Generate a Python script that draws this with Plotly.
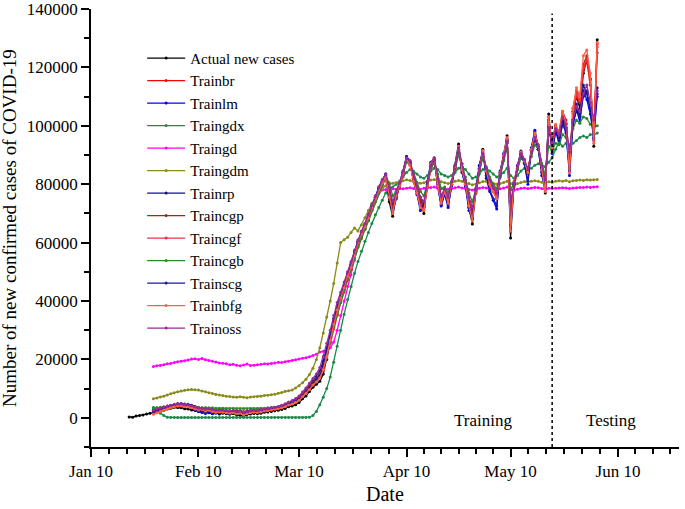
import numpy as np
import pandas as pd
import plotly.graph_objects as go

# values, in thousands of cases
actual_start = "2020-01-21"   # first day of the actual series
model_start = "2020-01-28"    # first day of the network outputs
split_date = "2020-05-22"     # training / testing boundary

actual_k = [
    0.3, 0.2, 0.6, 0.8, 1.0, 1.3, 1.6,
    1.8, 2.0, 2.2, 2.6, 3.0, 3.3, 3.6, 3.5, 3.4, 3.1,
    3.0, 2.7, 2.5, 2.2, 2.6, 2.0, 1.7, 1.5, 1.8, 1.3,
    1.6, 1.4, 1.2, 1.5, 1.0, 0.9, 0.4, 1.1, 1.3, 1.5,
    1.4, 1.6, 1.9, 2.0, 2.2, 2.4, 2.6, 2.8, 3.2, 3.8,
    4.0, 4.5, 5.2, 6.5, 7.5, 9.0, 10.5, 11.5, 12.5, 15.0,
    20, 26, 32, 37, 41, 44, 48, 51, 56, 60,
    63, 65, 68, 72, 75, 78, 80, 82, 74, 69,
    76, 79, 84, 89.5, 87, 82, 78, 74, 70, 80,
    86, 89, 80, 73, 78, 73.5, 80, 86, 93.8, 85,
    80, 72, 66.4, 78, 86, 92, 84, 80, 78, 75,
    84, 90, 96.6, 61.6, 80, 86, 91.4, 88, 84, 92,
    98, 93, 85, 77, 104, 92, 100, 96, 103, 99,
    84.6, 105, 110, 106, 118, 123, 116, 93, 129.5,
]

trainbr_k = [
    2.2, 2.6, 3.0, 3.4, 3.8, 4.0, 4.3, 4.4, 4.5, 4.3,
    4.4, 4.2, 3.9, 3.5, 3.3, 3.0, 3.2, 2.8, 2.6, 2.5,
    2.6, 2.4, 2.3, 2.5, 2.2, 2.4, 2.0, 2.3, 2.5, 2.6,
    2.4, 2.7, 2.9, 3.0, 3.2, 3.4, 3.6, 3.9, 4.3, 4.8,
    5.2, 5.8, 6.5, 7.6, 8.8, 10.2, 11.8, 13.0, 14.5, 17.0,
    21.5, 26.5, 31.5, 36.0, 40.5, 44.0, 48.0, 51.5, 55.5, 59.5,
    62.5, 65.0, 68.0, 71.5, 74.5, 77.5, 80.0, 82.5, 77.0, 72.5,
    75.5, 79.0, 83.0, 88.0, 87.0, 82.5, 79.0, 75.0, 72.5, 79.5,
    85.0, 88.5, 81.5, 75.5, 78.0, 75.0, 80.0, 85.5, 91.5, 86.0,
    81.0, 74.5, 70.5, 77.0, 84.5, 90.0, 85.0, 81.5, 79.0, 76.5,
    83.0, 89.0, 94.5, 72.0, 79.0, 85.0, 90.0, 88.0, 85.0, 91.0,
    96.0, 93.0, 86.0, 80.0, 98.0, 95.0, 99.0, 97.0, 104.0, 101.0,
    88.0, 104.0, 110.0, 108.0, 119.0, 122.0, 114.0, 98.0, 128.0,
]

trainlm_k = [
    1.9, 2.4, 2.9, 3.3, 3.7, 4.1, 4.4, 4.7, 4.6, 4.5,
    4.3, 3.6, 2.9, 2.2, 1.8, 1.5, 1.9, 1.4, 1.6, 1.9,
    2.1, 1.8, 1.6, 1.9, 1.5, 1.7, 1.2, 1.5, 1.8, 2.0,
    1.9, 2.2, 2.5, 2.7, 2.9, 3.1, 3.4, 3.7, 4.1, 4.6,
    5.0, 5.5, 6.2, 7.2, 8.4, 9.8, 11.5, 12.8, 14.2, 17.5,
    22.0, 27.0, 32.5, 37.5, 41.0, 44.5, 48.5, 52.0, 56.0, 60.0,
    63.0, 65.5, 68.5, 72.0, 75.5, 78.5, 81.0, 83.5, 76.0, 70.0,
    75.0, 79.5, 84.5, 89.5, 88.0, 81.0, 76.5, 71.0, 72.0, 81.0,
    87.5, 89.0, 79.0, 72.5, 76.5, 72.0, 79.5, 86.5, 93.0, 84.0,
    79.0, 71.0, 68.0, 78.5, 86.5, 91.5, 82.0, 77.5, 74.5, 71.5,
    84.5, 90.5, 95.5, 64.0, 80.5, 86.5, 91.0, 87.0, 80.0, 92.5,
    98.5, 92.0, 83.0, 78.5, 103.0, 90.5, 98.0, 94.0, 101.0, 97.5,
    83.0, 100.0, 106.0, 101.0, 112.0, 109.0, 104.0, 96.0, 110.0,
]

traingdx_k = [
    3.5, 2.6, 1.6, 0.8, 0.2, 0.1, 0.1, 0.1, 0.1, 0.1,
    0.1, 0.1, 0.1, 0.1, 0.1, 0.1, 0.1, 0.1, 0.1, 0.1,
    0.1, 0.1, 0.1, 0.1, 0.1, 0.1, 0.1, 0.1, 0.1, 0.1,
    0.1, 0.1, 0.1, 0.1, 0.1, 0.1, 0.1, 0.1, 0.1, 0.1,
    0.1, 0.1, 0.1, 0.1, 0.1, 0.2, 0.8, 2.2, 4.5, 7.0,
    10.0, 14.0, 19.0, 24.5, 30.0, 35.5, 40.5, 45.0, 49.5, 53.5,
    57.0, 60.5, 63.5, 66.5, 69.5, 72.0, 74.5, 77.0, 78.5, 79.0,
    80.0, 81.0, 82.5, 84.0, 85.0, 84.5, 83.5, 82.5, 82.0, 83.0,
    84.5, 85.5, 85.0, 83.5, 83.0, 82.5, 83.0, 84.0, 85.5, 86.0,
    85.0, 83.5, 82.0, 82.5, 83.5, 85.0, 85.5, 84.5, 83.5, 82.5,
    83.0, 84.0, 85.5, 83.0, 82.0, 83.0, 84.5, 85.5, 85.0, 85.5,
    86.5, 87.0, 86.5, 86.0, 87.5, 89.0, 92.0, 94.5, 93.0, 94.0,
    93.5, 94.0, 95.0, 96.0, 96.5, 96.0, 97.0, 97.0, 97.5,
]

traingd_k = [
    17.6, 17.8, 17.9, 18.2, 18.5, 18.6, 18.9, 19.2, 19.4, 19.5,
    19.8, 20.1, 20.2, 20.0, 20.3, 19.9, 19.6, 19.4, 19.1, 18.8,
    18.7, 18.5, 18.2, 18.3, 18.0, 17.8, 18.1, 18.4, 17.9, 18.0,
    18.2, 18.3, 18.5, 18.4, 18.6, 18.8, 19.0, 18.9, 19.2, 19.4,
    19.6, 19.9, 20.1, 20.4, 20.6, 20.9, 21.3, 21.8, 22.5, 22.8,
    23.0, 24.0, 26.0, 30.0, 35.0, 40.0, 45.0, 49.0, 54.0, 59.0,
    63.0, 66.5, 70.0, 72.5, 75.0, 77.0, 78.0, 78.2, 78.3, 78.4,
    78.3, 78.5, 78.4, 78.6, 78.8, 78.5, 78.4, 78.3, 78.6, 78.7,
    78.9, 79.0, 78.6, 78.4, 78.5, 78.3, 78.5, 78.8, 79.0, 78.7,
    78.5, 78.2, 78.0, 78.3, 78.6, 78.9, 78.7, 78.5, 78.3, 78.2,
    78.4, 78.7, 79.0, 78.2, 78.0, 78.3, 78.6, 78.7, 78.5, 78.7,
    78.9, 78.8, 78.5, 78.2, 78.6, 78.5, 78.6, 78.7, 78.8, 78.7,
    78.5, 78.7, 78.8, 78.9, 78.9, 79.0, 78.9, 79.0, 79.1,
]

traingdm_k = [
    6.5, 6.8, 7.1, 7.4, 7.8, 8.2, 8.6, 8.9, 9.2, 9.4,
    9.6, 9.7, 9.6, 9.5, 9.2, 8.9, 8.6, 8.3, 8.0, 7.8,
    7.6, 7.4, 7.3, 7.1, 7.0, 7.2, 7.0, 6.9, 7.1, 7.2,
    7.3, 7.4, 7.6, 7.7, 7.9, 8.1, 8.4, 8.7, 9.1, 9.3,
    9.5, 10.2, 11.0, 12.0, 13.2, 14.8, 17.0, 20.0, 24.0, 29.0,
    34.5, 40.0, 46.0, 53.0, 60.0, 61.0, 61.8, 63.5, 65.0, 64.0,
    66.0, 68.5, 71.0, 73.5, 75.5, 77.5, 78.5, 79.5, 80.0, 80.3,
    80.5, 80.8, 81.2, 81.5, 81.3, 81.0, 80.6, 80.3, 80.5, 81.0,
    81.4, 81.6, 81.2, 80.8, 80.5, 80.2, 80.5, 81.0, 81.3, 81.0,
    80.6, 80.2, 79.8, 80.1, 80.5, 80.9, 81.0, 80.6, 80.3, 80.0,
    80.2, 80.6, 81.0, 80.2, 79.9, 80.2, 80.6, 80.9, 80.8, 81.0,
    81.2, 81.0, 80.7, 80.3, 80.8, 80.7, 81.0, 81.2, 81.0, 81.3,
    80.8, 81.2, 81.3, 81.4, 81.3, 81.5, 81.4, 81.5, 81.6,
]

trainrp_k = [
    2.4, 2.8, 3.2, 3.5, 3.9, 4.2, 4.5, 4.8, 4.9, 4.7,
    4.6, 4.3, 3.8, 3.4, 3.1, 2.8, 3.0, 2.7, 2.5, 2.4,
    2.5, 2.3, 2.2, 2.3, 2.0, 2.1, 1.8, 2.0, 2.3, 2.5,
    2.4, 2.6, 2.8, 3.0, 3.1, 3.3, 3.6, 4.0, 4.5, 5.2,
    5.6, 6.2, 7.0, 8.2, 9.6, 11.0, 12.6, 14.0, 16.0, 19.5,
    24.0, 29.0, 34.0, 38.5, 42.0, 45.5, 49.5, 53.0, 57.0, 60.5,
    63.5, 66.0, 69.0, 72.5, 75.5, 78.5, 81.0, 83.0, 78.0, 73.5,
    76.5, 80.0, 84.0, 88.5, 87.5, 83.0, 79.0, 75.5, 73.5, 80.5,
    86.0, 88.0, 81.0, 75.0, 77.5, 74.5, 80.5, 86.0, 92.0, 85.5,
    80.5, 74.0, 71.0, 77.5, 85.0, 90.5, 84.5, 80.5, 78.5, 76.0,
    82.5, 88.5, 94.0, 73.0, 80.0, 85.5, 90.0, 87.5, 84.0, 90.5,
    95.5, 92.0, 85.5, 80.5, 99.0, 93.5, 98.5, 96.0, 102.0, 99.5,
    89.0, 101.0, 105.0, 103.0, 110.0, 112.0, 106.0, 100.0, 111.0,
]

traincgp_k = [
    2.8, 3.1, 3.4, 3.7, 4.0, 4.2, 4.4, 4.6, 4.5, 4.4,
    4.3, 4.0, 3.7, 3.3, 3.1, 2.9, 3.1, 2.8, 2.6, 2.6,
    2.7, 2.5, 2.4, 2.5, 2.3, 2.4, 2.1, 2.3, 2.5, 2.7,
    2.6, 2.8, 3.0, 3.1, 3.3, 3.5, 3.7, 4.1, 4.6, 5.0,
    5.4, 6.0, 6.8, 8.0, 9.2, 10.6, 12.2, 13.5, 15.2, 18.0,
    22.5, 27.5, 32.5, 37.0, 41.0, 44.5, 48.5, 52.0, 56.0, 59.5,
    62.5, 65.0, 68.0, 71.5, 74.5, 77.5, 80.5, 82.5, 77.5, 72.0,
    75.0, 79.0, 83.5, 88.5, 87.5, 82.0, 78.5, 74.5, 72.0, 79.0,
    85.5, 88.5, 81.0, 75.0, 78.0, 74.5, 80.0, 86.0, 92.5, 86.0,
    80.5, 74.0, 70.0, 77.0, 85.0, 90.5, 85.5, 81.0, 78.0, 76.0,
    83.5, 89.5, 95.0, 71.0, 79.5, 85.5, 90.5, 88.5, 84.5, 91.5,
    96.5, 93.5, 86.0, 79.5, 100.0, 95.5, 100.0, 98.0, 105.0, 102.0,
    87.0, 106.0, 112.0, 110.0, 121.0, 124.0, 116.0, 97.0, 125.0,
]

traincgf_k = [
    1.6, 2.0, 2.4, 2.9, 3.3, 3.6, 3.9, 4.1, 4.2, 4.0,
    3.9, 3.6, 3.2, 2.9, 2.8, 2.5, 2.8, 2.4, 2.2, 2.1,
    2.2, 2.0, 1.9, 2.1, 1.8, 2.0, 1.5, 1.8, 2.0, 2.2,
    2.1, 2.3, 2.6, 2.8, 3.0, 3.2, 3.4, 3.7, 4.1, 4.6,
    5.0, 5.6, 6.3, 7.4, 8.6, 10.0, 11.5, 12.6, 13.8, 16.2,
    20.5, 25.5, 30.5, 35.0, 39.5, 43.0, 47.0, 50.5, 54.5, 58.5,
    61.5, 64.5, 67.5, 71.0, 74.0, 77.0, 79.5, 82.0, 76.5, 71.0,
    75.5, 79.5, 83.5, 88.5, 86.5, 81.5, 77.5, 73.0, 71.5, 79.0,
    86.0, 89.0, 80.0, 74.0, 77.5, 74.0, 79.5, 85.5, 92.0, 85.0,
    80.0, 73.0, 69.0, 77.5, 85.5, 91.0, 84.5, 80.0, 77.5, 75.0,
    83.5, 89.5, 95.5, 67.0, 80.5, 86.0, 90.5, 87.5, 83.5, 91.5,
    97.0, 93.0, 85.0, 78.0, 101.0, 93.0, 99.5, 96.5, 104.5, 100.5,
    85.0, 104.5, 111.0, 108.5, 120.0, 123.0, 115.5, 95.0, 127.0,
]

traincgb_k = [
    3.4, 3.5, 3.6, 3.7, 3.8, 3.9, 4.0, 4.0, 4.0, 3.9,
    3.9, 3.8, 3.7, 3.6, 3.5, 3.5, 3.4, 3.4, 3.3, 3.3,
    3.3, 3.2, 3.2, 3.2, 3.1, 3.1, 3.1, 3.1, 3.2, 3.2,
    3.2, 3.3, 3.3, 3.4, 3.5, 3.6, 3.7, 3.9, 4.2, 4.6,
    5.0, 5.6, 6.3, 7.3, 8.5, 9.9, 11.4, 13.0, 14.8, 17.5,
    21.5, 26.0, 31.0, 35.5, 39.5, 43.5, 47.5, 51.0, 55.0, 58.5,
    61.5, 64.5, 67.5, 71.0, 74.0, 77.0, 80.0, 82.5, 80.5, 76.0,
    77.5, 80.5, 84.0, 87.5, 87.0, 84.0, 80.5, 77.5, 76.0, 80.5,
    85.0, 87.5, 83.5, 78.5, 79.0, 77.0, 80.5, 85.0, 90.0, 87.0,
    82.5, 77.0, 74.0, 78.5, 84.5, 89.0, 86.0, 82.5, 80.0, 78.5,
    83.0, 88.0, 92.5, 78.0, 80.5, 85.0, 89.0, 88.0, 85.5, 89.5,
    93.5, 92.0, 87.0, 83.0, 93.0, 91.5, 94.0, 93.5, 97.0, 96.0,
    92.0, 99.0, 102.0, 101.0, 103.0, 102.5, 100.5, 99.5, 100.0,
]

trainscg_k = [
    2.0, 2.5, 3.0, 3.4, 3.8, 4.1, 4.4, 4.6, 4.5, 4.2,
    4.0, 3.5, 2.9, 2.4, 2.1, 1.8, 2.2, 1.7, 1.8, 2.0,
    2.2, 1.9, 1.7, 2.0, 1.6, 1.8, 1.3, 1.6, 1.9, 2.1,
    2.0, 2.3, 2.6, 2.8, 3.0, 3.2, 3.5, 3.8, 4.2, 4.7,
    5.1, 5.7, 6.4, 7.5, 8.7, 10.1, 11.7, 13.0, 14.6, 17.8,
    22.5, 27.5, 33.0, 37.5, 41.5, 45.0, 49.0, 52.5, 56.5, 60.5,
    63.5, 66.0, 69.0, 72.5, 76.0, 79.0, 81.5, 83.5, 76.5, 70.5,
    75.5, 79.5, 84.0, 89.0, 87.5, 81.5, 77.0, 72.0, 72.5, 80.5,
    87.0, 88.5, 79.5, 73.0, 77.0, 72.5, 79.5, 86.0, 92.5, 84.5,
    79.5, 72.0, 68.5, 78.0, 86.0, 91.0, 83.0, 78.0, 75.0, 72.5,
    84.0, 90.0, 95.0, 66.0, 80.0, 86.0, 90.5, 87.0, 81.0, 92.0,
    97.5, 92.0, 84.0, 79.0, 102.0, 91.0, 98.5, 95.0, 100.5, 98.0,
    84.5, 101.5, 107.5, 103.0, 114.0, 111.0, 105.5, 95.5, 113.0,
]

trainbfg_k = [
    1.2, 1.7, 2.2, 2.7, 3.1, 3.5, 3.8, 4.0, 4.1, 3.9,
    3.8, 3.4, 3.0, 2.7, 2.9, 2.3, 2.6, 2.2, 1.9, 2.0,
    1.9, 1.7, 1.6, 1.8, 1.4, 1.6, 1.0, 1.4, 1.7, 1.9,
    1.8, 2.0, 2.3, 2.5, 2.7, 2.9, 3.1, 3.4, 3.8, 4.4,
    4.7, 5.3, 6.0, 7.2, 8.3, 9.7, 11.2, 12.3, 13.6, 16.5,
    21.0, 26.5, 32.0, 37.0, 41.0, 44.5, 48.5, 51.5, 55.5, 60.0,
    63.0, 65.5, 68.5, 72.0, 75.0, 78.0, 80.5, 82.5, 75.5, 70.0,
    76.0, 79.5, 84.0, 89.0, 86.5, 81.0, 77.0, 72.0, 71.0, 79.5,
    87.0, 89.0, 79.5, 73.5, 77.5, 73.5, 80.0, 86.0, 93.0, 85.0,
    80.0, 72.5, 67.5, 77.5, 85.5, 91.5, 84.5, 80.0, 77.5, 75.0,
    84.0, 90.0, 96.0, 64.0, 81.0, 86.0, 91.0, 88.0, 84.0, 92.0,
    97.5, 93.0, 85.0, 77.5, 103.0, 92.5, 100.5, 97.5, 105.0, 101.0,
    84.0, 106.0, 113.0, 110.0, 124.0, 126.0, 118.0, 94.0, 128.5,
]

trainoss_k = [
    2.6, 3.0, 3.3, 3.7, 4.0, 4.3, 4.6, 4.8, 4.8, 4.6,
    4.5, 4.1, 3.7, 3.3, 3.2, 2.9, 3.1, 2.8, 2.6, 2.6,
    2.6, 2.4, 2.3, 2.4, 2.1, 2.3, 1.9, 2.2, 2.4, 2.6,
    2.5, 2.8, 3.0, 3.2, 3.4, 3.6, 3.9, 4.3, 4.8, 5.4,
    5.9, 6.6, 7.5, 8.8, 10.2, 11.8, 13.5, 15.0, 17.2, 21.0,
    25.5, 30.0, 35.0, 39.5, 43.0, 46.5, 50.0, 53.5, 57.5, 61.0,
    64.0, 66.5, 69.5, 73.0, 76.0, 79.0, 81.5, 83.5, 79.0, 74.0,
    77.0, 80.5, 84.5, 89.0, 88.0, 83.5, 79.5, 75.5, 74.0, 81.0,
    86.5, 89.0, 82.0, 76.0, 78.5, 75.5, 81.0, 86.5, 92.5, 87.0,
    81.5, 75.5, 72.0, 78.0, 85.5, 90.5, 85.5, 81.5, 79.0, 77.0,
    83.5, 89.0, 94.5, 74.0, 80.5, 86.0, 90.5, 88.5, 85.0, 91.0,
    96.0, 93.0, 86.5, 81.5, 99.5, 94.0, 99.0, 97.0, 103.0, 100.5,
    91.0, 102.0, 106.5, 105.0, 111.0, 114.0, 108.0, 102.0, 112.0,
]

# legend name, values, colour
models = [
    ("Trainbr", trainbr_k, "#ff0000"),
    ("Trainlm", trainlm_k, "#0000ff"),
    ("Traingdx", traingdx_k, "#1a8a4a"),
    ("Traingd", traingd_k, "#ff00ff"),
    ("Traingdm", traingdm_k, "#8a8a1a"),
    ("Trainrp", trainrp_k, "#10109a"),
    ("Traincgp", traincgp_k, "#a0261a"),
    ("Traincgf", traincgf_k, "#f0304a"),
    ("Traincgb", traincgb_k, "#2a8a2a"),
    ("Trainscg", trainscg_k, "#1a1a9a"),
    ("Trainbfg", trainbfg_k, "#ff6040"),
    ("Trainoss", trainoss_k, "#9a2a9a"),
]

FONT = "Liberation Serif"

actual_dates = pd.date_range(actual_start, periods=len(actual_k), freq="D")
model_dates = pd.date_range(model_start, periods=len(trainbr_k), freq="D")

fig = go.Figure()
fig.add_trace(go.Scatter(
    x=actual_dates, y=np.array(actual_k) * 1000, name="Actual new cases",
    mode="lines+markers", line=dict(color="black", width=1.3),
    marker=dict(size=3, color="black"),
))
for name, vals, col in models:
    fig.add_trace(go.Scatter(
        x=model_dates, y=np.array(vals) * 1000, name=name,
        mode="lines+markers", line=dict(color=col, width=1.3),
        marker=dict(size=3, color=col),
    ))

# axis ticks: major on the 10th of each month, five minor ticks in between
x_lo, x_hi = pd.Timestamp("2020-01-10"), pd.Timestamp("2020-06-27 14:00")
majors = pd.date_range("2020-01-10", "2020-07-10", freq=pd.DateOffset(months=1))
minors = []
for a, b in zip(majors[:-1], majors[1:]):
    for k in range(1, 6):
        t = a + (b - a) * k / 6
        if t <= x_hi:
            minors.append(t)
major_vals = [m for m in majors if m <= x_hi]

fig.update_xaxes(
    range=[x_lo, x_hi], showgrid=False, zeroline=False, automargin=False,
    showline=True, linecolor="black", linewidth=1.5,
    tickmode="array", tickvals=major_vals,
    ticktext=[m.strftime("%b %d").replace(" 0", " ") for m in major_vals],
    ticks="outside", ticklen=8, tickwidth=1.5, tickcolor="black",
    minor=dict(tickmode="array", tickvals=minors, ticks="outside",
               ticklen=5, tickwidth=1.5, tickcolor="black"),
    tickfont=dict(family=FONT, size=17, color="black"),
)
fig.update_yaxes(
    range=[-10000, 140000], showgrid=False, zeroline=False, automargin=False,
    showline=True, linecolor="black", linewidth=1.5,
    tick0=0, dtick=20000, tickformat="d", ticks="outside", ticklen=8,
    tickwidth=1.5, tickcolor="black", ticklabeloverflow="allow",
    minor=dict(dtick=10000, ticks="outside", ticklen=5, tickwidth=1.5,
               tickcolor="black"),
    tickfont=dict(family=FONT, size=17, color="black"),
)

# axis titles
fig.add_annotation(x=0.5, y=0, xref="paper", yref="paper", yanchor="top",
                   yshift=-34, text="Date", showarrow=False,
                   font=dict(family=FONT, size=20, color="black"))
fig.add_annotation(x=0, y=0.5, xref="paper", yref="paper", xanchor="center",
                   xshift=-82, textangle=-90, showarrow=False,
                   text="Number of new confirmed cases of COVID-19",
                   font=dict(family=FONT, size=19, color="black"))

fig.add_shape(type="line", x0=split_date, x1=split_date, xref="x",
              y0=0, y1=0.99, yref="paper",
              line=dict(color="black", width=1.5, dash="dot"))
fig.add_annotation(x="2020-05-02", y=-1000, text="Training", showarrow=False,
                   font=dict(family=FONT, size=17, color="black"))
fig.add_annotation(x="2020-06-08", y=-1000, text="Testing", showarrow=False,
                   font=dict(family=FONT, size=17, color="black"))

fig.update_layout(
    width=685, height=509,
    margin=dict(l=91, r=6, t=9, b=62),
    paper_bgcolor="white", plot_bgcolor="white",
    font=dict(family=FONT, color="black"),
    legend=dict(x=0.087, y=0.925, xanchor="left", yanchor="top",
                bgcolor="rgba(0,0,0,0)", itemwidth=38,
                font=dict(family=FONT, size=15, color="black")),
)

# drop the page's default body margin so the figure sits at the corner
fig.write_html("out.html", config={"displayModeBar": False},
               post_script="document.body.style.margin='0';")
